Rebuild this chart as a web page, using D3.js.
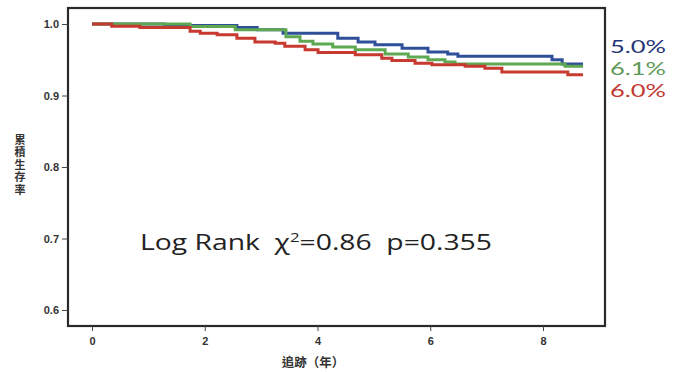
<!DOCTYPE html>
<html>
<head>
<meta charset="utf-8">
<script src="https://cdn.jsdelivr.net/npm/d3@7"></script>
<style>
  html, body { margin: 0; padding: 0; background: #fff; }
  svg { display: block; }
</style>
</head>
<body>
<svg id="chart" width="681" height="372"></svg>
<script>
// Kaplan-Meier step curves
const blueTimes  = [0, 1.29, 2.57, 2.93, 3.39, 4.36, 4.72, 5.02, 5.50, 5.96, 6.31, 6.49, 8.16, 8.34, 8.71];
const blueSurv   = [1.0, 0.998, 0.995, 0.992, 0.987, 0.980, 0.975, 0.971, 0.966, 0.961, 0.958, 0.955, 0.950, 0.944, 0.944];

const greenTimes = [0, 1.74, 2.54, 3.44, 3.69, 3.92, 4.27, 4.67, 5.20, 5.61, 5.96, 6.26, 6.44, 8.39, 8.71];
const greenSurv  = [1.0, 0.9965, 0.992, 0.982, 0.976, 0.972, 0.968, 0.964, 0.958, 0.954, 0.950, 0.947, 0.944, 0.941, 0.941];

const redTimes   = [0, 0.35, 0.85, 1.74, 1.92, 2.22, 2.57, 2.89, 3.25, 3.42, 3.78, 4.01, 4.67, 5.14, 5.32, 5.73, 6.03, 6.62, 6.97, 7.27, 8.44, 8.71];
const redSurv    = [1.0, 0.997, 0.995, 0.990, 0.987, 0.985, 0.980, 0.975, 0.973, 0.969, 0.964, 0.960, 0.957, 0.952, 0.949, 0.945, 0.943, 0.941, 0.938, 0.933, 0.929, 0.929];

const seriesLabels = ["5.0%", "6.1%", "6.0%"];
const xTicks = [0, 2, 4, 6, 8];
const yTicks = [0.6, 0.7, 0.8, 0.9, 1.0];
const xTitle = "追跡（年）";
const yTitle = "累積生存率";

const svg = d3.select("#chart");

// plot frame in pixels
const frame = { left: 68, top: 8, right: 605, bottom: 326 };

const x = d3.scaleLinear().domain([0, 8]).range([92, 543]);
const y = d3.scaleLinear().domain([0.6, 1.0]).range([310, 24]);

const series = [
  { times: blueTimes,  surv: blueSurv,  color: "#2f4f99", text: "#1f3577" },
  { times: greenTimes, surv: greenSurv, color: "#5ea852", text: "#5f9a58" },
  { times: redTimes,   surv: redSurv,   color: "#c8392f", text: "#c0392f" }
];

// curves
const line = d3.line()
  .x(d => x(d[0]))
  .y(d => y(d[1]))
  .curve(d3.curveStepAfter);

svg.append("g")
  .selectAll("path")
  .data(series)
  .join("path")
  .attr("fill", "none")
  .attr("stroke", d => d.color)
  .attr("stroke-width", 3)
  .attr("d", d => line(d3.zip(d.times, d.surv)));

// frame
svg.append("rect")
  .attr("x", frame.left).attr("y", frame.top)
  .attr("width", frame.right - frame.left)
  .attr("height", frame.bottom - frame.top)
  .attr("fill", "none")
  .attr("stroke", "#2a2a2a")
  .attr("stroke-width", 2.2);

const tickFont = sel => sel
  .attr("font-family", "'Liberation Sans', Arial, sans-serif")
  .attr("font-weight", "bold")
  .attr("font-size", 11)
  .attr("fill", "#333");

// y axis
const yAxis = svg.append("g")
  .attr("transform", `translate(${frame.left},0)`)
  .call(d3.axisLeft(y).tickValues(yTicks).tickFormat(d3.format(".1f")).tickSize(6).tickPadding(3));
yAxis.select(".domain").remove();
yAxis.selectAll("line").attr("stroke", "#444").attr("stroke-width", 1);
yAxis.selectAll("text").call(tickFont);

// x axis
const xAxis = svg.append("g")
  .attr("transform", `translate(0,${frame.bottom})`)
  .call(d3.axisBottom(x).tickValues(xTicks).tickFormat(d3.format("d")).tickSize(5).tickPadding(6));
xAxis.select(".domain").remove();
xAxis.selectAll("line").attr("stroke", "#444").attr("stroke-width", 1);
xAxis.selectAll("text").call(tickFont);

// axis titles
svg.append("text")
  .attr("x", 313).attr("y", 367)
  .attr("text-anchor", "middle")
  .attr("font-family", "'Noto Sans CJK TC', sans-serif")
  .attr("font-weight", "bold")
  .attr("font-size", 12.5)
  .attr("fill", "#333")
  .text(xTitle);

svg.append("text")
  .attr("x", 20).attr("y", 134)
  .attr("font-family", "'Noto Sans CJK TC', sans-serif")
  .attr("font-weight", "bold")
  .attr("font-size", 11)
  .attr("letter-spacing", 1.6)
  .attr("fill", "#333")
  .style("writing-mode", "vertical-rl")
  .style("text-orientation", "upright")
  .text(yTitle);

// log rank annotation
const note = svg.append("text")
  .attr("x", 140).attr("y", 250)
  .attr("font-family", "'Open Sans', sans-serif")
  .attr("font-size", 22)
  .attr("fill", "#222")
  .attr("textLength", 352)
  .attr("lengthAdjust", "spacingAndGlyphs")
  .style("white-space", "pre");
note.append("tspan").text("Log Rank  χ");
note.append("tspan").attr("dy", -8).attr("font-size", 13).text("2");
note.append("tspan").attr("dy", 8).text("=0.86  p=0.355");

// end labels
svg.append("g")
  .selectAll("text")
  .data(series)
  .join("text")
  .attr("x", 610)
  .attr("y", (d, i) => 53 + i * 22)
  .attr("font-family", "Lato, sans-serif")
  .attr("font-size", 18)
  .attr("textLength", 56)
  .attr("lengthAdjust", "spacingAndGlyphs")
  .attr("fill", d => d.text)
  .text((d, i) => seriesLabels[i]);
</script>
</body>
</html>
